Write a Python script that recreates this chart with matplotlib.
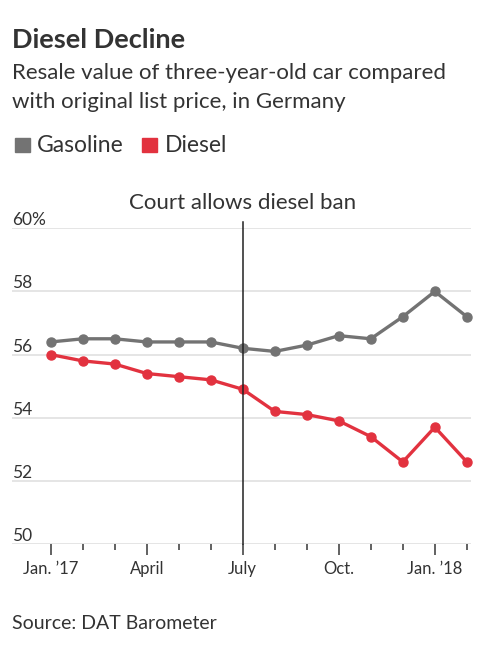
import matplotlib
matplotlib.use("Agg")
import matplotlib.pyplot as plt
import matplotlib.transforms as mtransforms
import numpy as np

plt.rcParams['font.family'] = ['Lato', 'DejaVu Sans']

# monthly readings, Jan 2017 .. Feb 2018
months = np.arange(14)
gasoline = [56.4, 56.5, 56.5, 56.4, 56.4, 56.4, 56.2, 56.1, 56.3, 56.6, 56.5, 57.2, 58.0, 57.2]
diesel = [56.0, 55.8, 55.7, 55.4, 55.3, 55.2, 54.9, 54.2, 54.1, 53.9, 53.4, 52.6, 53.7, 52.6]
major_ticks = [0, 3, 6, 9, 12]
major_labels = ["Jan. \u201917", "April", "July", "Oct.", "Jan. \u201918"]
y_ticks = [50, 52, 54, 56, 58, 60]
y_labels = ["50", "52", "54", "56", "58", "60%"]
event_month = 6
event_label = "Court allows diesel ban"

gray = '#737373'
red = '#e2323f'
text_c = '#333333'
grid_c = '#e3e3e3'

W, H = 500, 655
fig = plt.figure(figsize=(W / 100, H / 100), dpi=100)

def px(x0, y0, x1, y1):
    return [x0 / W, 1 - y1 / H, (x1 - x0) / W, (y1 - y0) / H]

ax = fig.add_axes(px(12, 228.3, 471, 544))
ax.set_xlim(-1.21, 13.13)
ax.set_ylim(50, 60)

for s in ax.spines.values():
    s.set_visible(False)

for v in y_ticks:
    ax.axhline(v, color=grid_c, lw=1.3, zorder=0)

trans = mtransforms.blended_transform_factory(ax.transAxes, ax.transData)
for v, lab in zip(y_ticks, y_labels):
    ax.text(0, v, lab, transform=trans, ha='left', va='bottom', fontsize=12.5,
            color=text_c)
    
ax.set_yticks([])

ax.set_xticks(major_ticks)
ax.set_xticklabels(major_labels, fontsize=12, color=text_c)
ax.set_xticks(months, minor=True)
ax.tick_params(axis='x', which='major', length=8, width=1.3, color='#555555', pad=4)
ax.tick_params(axis='x', which='minor', length=4, width=1.3, color='#555555')

ax.plot(months, gasoline, color=gray, lw=2.4, marker='o', ms=6.5, zorder=3,
        clip_on=False)
ax.plot(months, diesel, color=red, lw=2.4, marker='o', ms=6.5, zorder=3,
        clip_on=False)

ax.plot([event_month, event_month], [50, 60.2], color='#222222', lw=1.1,
        zorder=4, clip_on=False)
ax.text(event_month, 60.5, event_label, ha='center', va='bottom', fontsize=16,
        color=text_c)

fig.text(12 / W, 1 - 48 / H, "Diesel Decline", fontsize=19.5, fontweight='bold',
         color=text_c, ha='left', va='baseline')
fig.text(12 / W, 1 - 79 / H, "Resale value of three-year-old car compared",
         fontsize=16, color=text_c, ha='left', va='baseline')
fig.text(12 / W, 1 - 108 / H, "with original list price, in Germany",
         fontsize=16, color=text_c, ha='left', va='baseline')

# legend
fig.patches.append(plt.Rectangle((15 / W, 1 - 152 / H), 15 / W, 14 / H,
                                 transform=fig.transFigure, color=gray))
fig.text(37 / W, 1 - 152 / H, "Gasoline", fontsize=16.5, color=text_c,
         ha='left', va='baseline')
fig.patches.append(plt.Rectangle((142 / W, 1 - 152 / H), 15 / W, 14 / H,
                                 transform=fig.transFigure, color=red))
fig.text(165 / W, 1 - 152 / H, "Diesel", fontsize=16.5, color=text_c,
         ha='left', va='baseline')

fig.text(12 / W, 1 - 629 / H, "Source: DAT Barometer", fontsize=14,
         color=text_c, ha='left', va='baseline')

fig.savefig('out.png', dpi=100, facecolor='white')
